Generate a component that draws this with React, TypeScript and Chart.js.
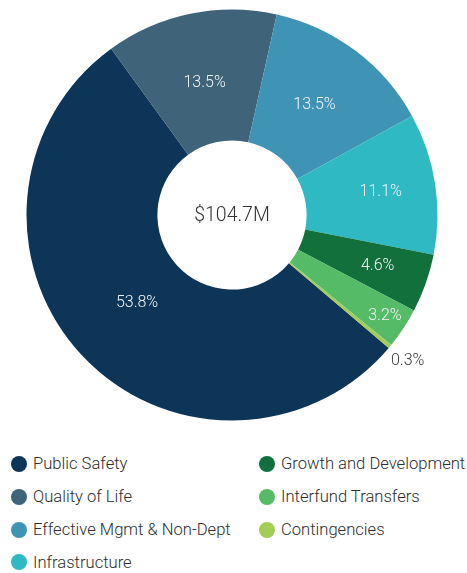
import React, { useEffect, useRef } from "react";
import { Chart, registerables } from "chart.js";

Chart.register(...registerables);

const categories = [
  "Public Safety",
  "Quality of Life",
  "Effective Mgmt & Non-Dept",
  "Infrastructure",
  "Growth and Development",
  "Interfund Transfers",
  "Contingencies",
];
const shares = [53.8, 13.5, 13.5, 11.1, 4.6, 3.2, 0.3];
const totalLabel = "$104.7M";
const colors = ["#0d3558", "#3f6378", "#3f94b5", "#2fb9c2", "#12703c", "#56bb66", "#a2cd57"];

const FONT = "Roboto, 'Open Sans', sans-serif";
// placement of the in-slice labels (fraction of ring depth); null => outside
const labelDepth: (number | null)[] = [0.42, 0.46, 0.48, 0.58, 0.61, 0.83, null];

const labelPlugin = {
  id: "sliceLabels",
  afterDatasetsDraw(chart: any) {
    const ctx = chart.ctx;
    const meta = chart.getDatasetMeta(0);
    ctx.save();
    ctx.textAlign = "center";
    ctx.textBaseline = "middle";
    meta.data.forEach((arc: any, i: number) => {
      const p = arc.getProps(["x", "y", "startAngle", "endAngle", "innerRadius", "outerRadius"], true);
      const mid = (p.startAngle + p.endAngle) / 2;
      const d = labelDepth[i];
      let r: number;
      if (d === null) {
        r = p.outerRadius + 23;
        ctx.fillStyle = "#3a3a3a";
      } else {
        r = p.innerRadius + (p.outerRadius - p.innerRadius) * d;
        ctx.fillStyle = "#f2f5f7";
      }
      ctx.font = `300 16px ${FONT}`;
      const txt = shares[i].toFixed(1) + "%";
      ctx.fillText(txt, p.x + Math.cos(mid) * r, p.y + Math.sin(mid) * r);
    });
    // center text
    const a0 = meta.data[0];
    ctx.fillStyle = "#333333";
    ctx.font = `300 19.5px ${FONT}`;
    ctx.fillText(totalLabel, a0.x, a0.y + 1);
    ctx.restore();
  },
};

export default function App() {
  const ref = useRef<HTMLCanvasElement>(null);
  useEffect(() => {
    document.body.style.margin = "0";
    if (!ref.current) return;
    const chart = new Chart(ref.current, {
      type: "doughnut",
      data: {
        labels: categories,
        datasets: [
          {
            data: shares,
            backgroundColor: colors,
            borderWidth: 0,
          },
        ],
      },
      options: {
        animation: false,
        responsive: false,
        events: [],
        rotation: 130.3,
        cutout: "36.3%",
        layout: { padding: { top: 1.5, bottom: 1.5, left: 0, right: 3 } },
        plugins: {
          legend: { display: false },
          tooltip: { enabled: false },
        },
      },
      plugins: [labelPlugin],
    });
    return () => chart.destroy();
  }, []);

  const col1 = categories.slice(0, 4);
  const col2 = categories.slice(4);
  const item = (name: string, idx: number) => (
    <div
      key={name}
      style={{ display: "flex", alignItems: "center", height: 32.8 }}
    >
      <span
        style={{
          display: "inline-block",
          width: 16,
          height: 16,
          borderRadius: 8,
          background: colors[idx],
          marginRight: 6,
          flex: "none",
        }}
      />
      <span style={{ whiteSpace: "nowrap" }}>{name}</span>
    </div>
  );

  const colStyle = {
    position: "absolute" as const,
    top: 464 - 16.4,
    fontSize: 16.6,
    fontWeight: 300,
    color: "#2e2e2e",
  };

  return (
    <div
      style={{
        position: "relative",
        width: 467,
        height: 573,
        boxSizing: "border-box",
        padding: "8px 8px 0 8px",
        fontFamily: FONT,
        overflow: "hidden",
      }}
    >
      <canvas ref={ref} width={451} height={414} style={{ display: "block" }} />
      <div style={{ ...colStyle, left: 11 }}>{col1.map((n, i) => item(n, i))}</div>
      <div style={{ ...colStyle, left: 259 }}>{col2.map((n, i) => item(n, i + 4))}</div>
    </div>
  );
}
